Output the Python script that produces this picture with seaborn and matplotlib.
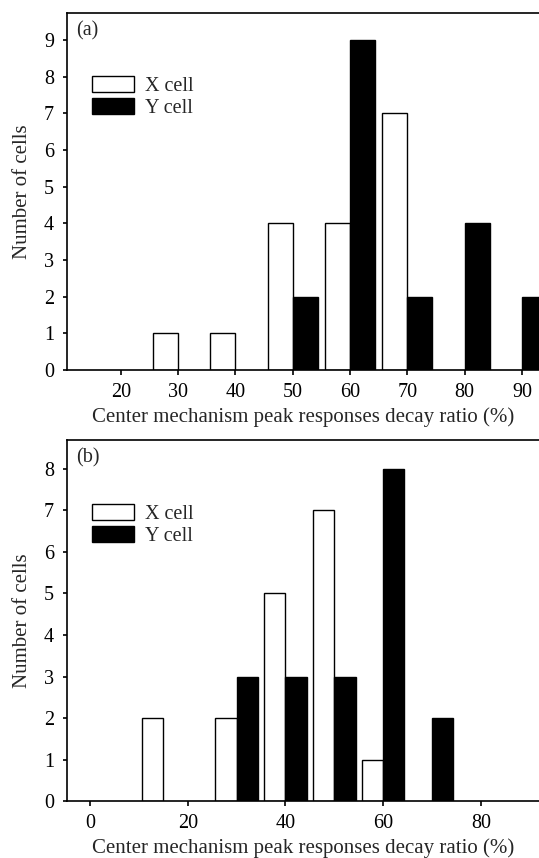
import pandas as pd
import seaborn as sns
import matplotlib
matplotlib.use("Agg")
import matplotlib.pyplot as plt

# bin centres (%) and counts
centers_a = [30, 40, 50, 60, 70, 80, 90]
x_cell_a = [1, 1, 4, 4, 7, 0, 0]
y_cell_a = [0, 0, 2, 9, 2, 4, 2]

centers_b = [15, 30, 40, 50, 60, 70]
x_cell_b = [2, 2, 5, 7, 1, 0]
y_cell_b = [0, 3, 3, 3, 8, 2]

xticks_a = [20, 30, 40, 50, 60, 70, 80, 90]
xticks_b = [0, 20, 40, 60, 80]

cell_types = ["X cell", "Y cell"]
xlabel = "Center mechanism peak responses decay ratio (%)"
ylabel = "Number of cells"


def make_df(centers, xs, ys):
    df = pd.DataFrame({"ratio": centers, "X cell": xs, "Y cell": ys})
    df = df.melt(id_vars="ratio", var_name="cell", value_name="count")
    return df[df["count"] > 0]


sns.set_style("ticks")
plt.rcParams["font.family"] = ["Liberation Serif", "DejaVu Serif"]
plt.rcParams["axes.linewidth"] = 1.2
plt.rcParams["xtick.major.width"] = 1.2
plt.rcParams["ytick.major.width"] = 1.2
plt.rcParams["xtick.major.size"] = 3.6
plt.rcParams["ytick.major.size"] = 3.0
plt.rcParams["xtick.color"] = "black"
plt.rcParams["ytick.color"] = "black"
plt.rcParams["axes.edgecolor"] = "black"

fig = plt.figure(figsize=(5.39, 8.58), dpi=100)
palette = {"X cell": "white", "Y cell": "black"}

panels = [
    ("(a)", make_df(centers_a, x_cell_a, y_cell_a), [0.1237, 0.5688, 0.8763, 0.4164],
     (10.57, 92.97), (0, 9.75), xticks_a, range(0, 10)),
    ("(b)", make_df(centers_b, x_cell_b, y_cell_b), [0.1237, 0.0659, 0.8763, 0.4213],
     (-4.77, 91.9), (0, 8.69), xticks_b, range(0, 9)),
]

for tag, df, rect, xlim, ylim, xt, yt in panels:
    ax = fig.add_axes(rect)
    sns.barplot(data=df, x="ratio", y="count", hue="cell", hue_order=cell_types,
                palette=palette, native_scale=True, dodge=True, width=0.87,
                errorbar=None, saturation=1, edgecolor="black", linewidth=1.0, ax=ax)
    ax.set_xlim(*xlim)
    ax.set_ylim(*ylim)
    ax.set_xticks(xt)
    ax.set_yticks(list(yt))
    ax.tick_params(axis="both", labelsize=14.5)
    ax.tick_params(axis="x", pad=5.5)
    ax.tick_params(axis="y", pad=6)
    ax.spines["right"].set_visible(False)
    ax.set_xlabel(xlabel, fontsize=15, labelpad=4)
    ax.set_ylabel(ylabel, fontsize=15, labelpad=9)
    ax.text(0.021, 0.977, tag, transform=ax.transAxes, fontsize=14.5, va="top", ha="left")
    handles, labels = ax.get_legend_handles_labels()
    ax.legend(handles, labels, loc="upper left", bbox_to_anchor=(0.053, 0.822),
              frameon=False, fontsize=14.5, borderpad=0, handlelength=2.1,
              handleheight=0.85, labelspacing=0.1, handletextpad=0.55,
              borderaxespad=0)

fig.savefig("out.png", dpi=100)
